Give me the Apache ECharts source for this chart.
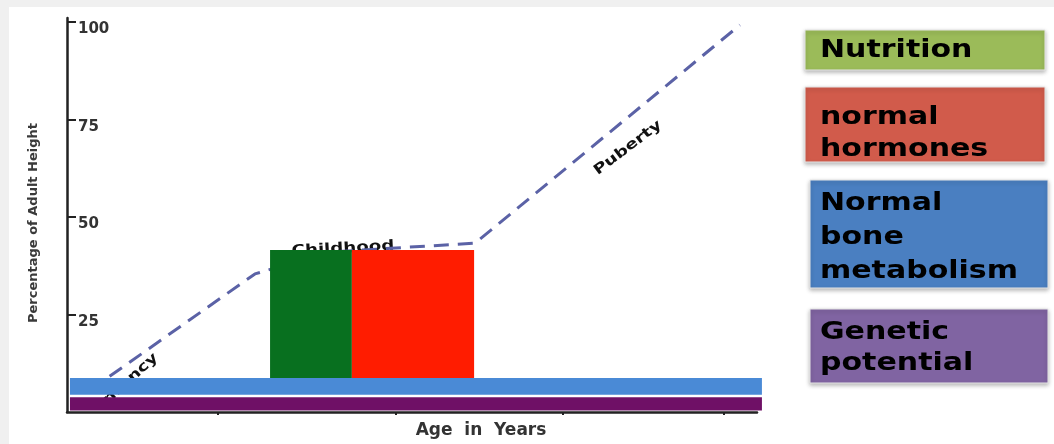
<!DOCTYPE html>
<html>
<head>
<meta charset="utf-8">
<script src="https://cdn.jsdelivr.net/npm/echarts@6/dist/echarts.min.js"></script>
<style>
  html, body { margin: 0; padding: 0; width: 1054px; height: 444px; overflow: hidden; background: #f0f0f0; }
  #chart { position: absolute; left: 9px; top: 7px; width: 1045px; height: 437px; background: #ffffff; }
</style>
</head>
<body>
<div id="chart"></div>
<script>
// Growth curve: age in years vs percentage of adult height
const curveAge    = [0.7, 5.72, 8.0, 12.42, 20.48];
const curveHeight = [5.6, 35.4, 41.0, 43.3, 99.2];

// Stage labels placed along the curve
const stageNames  = ['Infancy', 'Childhood', 'Puberty'];
const stageAge    = [1.86, 8.4, 17.07];
const stageHeight = [7.9, 41.9, 67.7];
const stageAngle  = [42, 3, 37];

// Blocks drawn under the curve (age range x height range)
const blockNames      = ['Genetic potential', 'Normal bone metabolism', 'Nutrition', 'normal hormones'];
const blockAgeFrom    = [0.09, 0.09, 6.18, 8.67];
const blockAgeTo      = [21.15, 21.15, 8.67, 12.39];
const blockHeightFrom = [0.4, 4.4, 8.7, 8.7];
const blockHeightTo   = [3.8, 8.7, 41.5, 41.5];

// Axis ticks
const yTicks = [25, 50, 75, 100];
const xTicks = [4.6, 10, 15.1, 20];

// Factor boxes on the right
const factorLines = ['Nutrition', 'normal\nhormones', 'Normal\nbone\nmetabolism', 'Genetic\npotential'];

// ---- styling ----
const blockColors  = ['#6f1066', '#4a8ad6', '#08701f', '#ff1c00'];
const factorColors = ['#9bbb59', '#d15b4b', '#4a7fc1', '#8064a2'];
const factorBoxes = [
  { x: 796, y: 23,  w: 240, h: 40,  tx: 811, ty: 43,  lh: 32, va: 'middle' },
  { x: 796, y: 80,  w: 240, h: 75,  tx: 811, ty: 94,  lh: 32, va: 'top' },
  { x: 801, y: 173, w: 238, h: 108, tx: 811, ty: 179, lh: 34, va: 'top' },
  { x: 801, y: 302, w: 238, h: 74,  tx: 811, ty: 310, lh: 31, va: 'top' }
];
const axisColor = '#222';
const textFont = '"DejaVu Sans", Verdana, sans-serif';

const chart = echarts.init(document.getElementById('chart'), null, { renderer: 'canvas' });

const graphic = [];
factorLines.forEach((txt, i) => {
  const b = factorBoxes[i];
  graphic.push({
    type: 'rect',
    shape: { x: b.x, y: b.y, width: b.w, height: b.h },
    style: {
      fill: factorColors[i],
      stroke: '#e6e6e6', lineWidth: 1,
      shadowBlur: 4, shadowOffsetY: 2, shadowColor: 'rgba(0,0,0,0.28)'
    },
    z: 10
  });
  graphic.push({
    type: 'text',
    x: b.tx, y: b.ty,
    scaleX: 1.2,
    style: {
      text: txt,
      x: 0, y: 0,
      fontFamily: textFont, fontWeight: 'bold', fontSize: 25,
      lineHeight: b.lh,
      fill: '#000',
      align: 'left', verticalAlign: b.va
    },
    z: 11
  });
});

const option = {
  animation: false,
  backgroundColor: '#ffffff',
  grid: { left: 58, right: 297, top: 11, bottom: 32, outerBoundsMode: 'none' },
  xAxis: {
    type: 'value', min: 0, max: 21,
    axisLine: { show: true, onZero: false, lineStyle: { color: axisColor, width: 2.5 } },
    axisTick: { show: true, customValues: xTicks, length: 3, lineStyle: { color: axisColor, width: 2 } },
    axisLabel: { show: false },
    splitLine: { show: false },
    name: 'Age  in  Years',
    nameLocation: 'middle',
    nameGap: 10,
    nameTextStyle: {
      fontFamily: textFont, fontWeight: 'bold', fontSize: 17, color: '#333',
      padding: [0, 0, 0, 138], verticalAlign: 'top'
    }
  },
  yAxis: {
    type: 'value', min: 0, max: 101,
    axisLine: { show: true, onZero: false, lineStyle: { color: axisColor, width: 2.5 } },
    axisTick: { show: true, inside: true, length: 9, customValues: yTicks, lineStyle: { color: axisColor, width: 2 } },
    axisLabel: {
      show: true, inside: true, margin: 11, customValues: yTicks,
      verticalAlign: 'top',
      fontFamily: textFont, fontWeight: 'bold', fontSize: 15, color: '#333'
    },
    splitLine: { show: false },
    name: 'Percentage of Adult Height',
    nameLocation: 'middle',
    nameRotate: 90,
    nameGap: 27,
    nameTextStyle: {
      fontFamily: textFont, fontWeight: 'bold', fontSize: 13, color: '#3a3a3a',
      padding: [0, 16, 0, 0]
    }
  },
  graphic: graphic,
  series: [
    {
      // stage names sit beneath the curve and the blocks
      name: 'Stages',
      type: 'custom',
      z: 1,
      silent: true,
      data: stageNames.map((n, i) => [stageAge[i], stageHeight[i], stageAngle[i]]),
      encode: { x: 0, y: 1 },
      renderItem: function (params, api) {
        const p = api.coord([api.value(0), api.value(1)]);
        return {
          type: 'text',
          x: p[0], y: p[1],
          rotation: api.value(2) * Math.PI / 180,
          scaleX: 1.3,
          style: {
            text: stageNames[params.dataIndex],
            x: 0, y: 0,
            align: 'center', verticalAlign: 'middle',
            fontFamily: textFont, fontWeight: 'bold', fontSize: 14,
            fill: '#111'
          }
        };
      }
    },
    {
      name: 'Growth',
      type: 'line',
      z: 2,
      silent: true,
      showSymbol: false,
      data: curveAge.map((a, i) => [a, curveHeight[i]]),
      lineStyle: { color: '#5b62a6', width: 3, type: [15, 9], cap: 'butt' }
    },
    {
      name: 'Blocks',
      type: 'custom',
      z: 3,
      silent: true,
      clip: false,
      data: blockNames.map((n, i) => [blockAgeFrom[i], blockAgeTo[i], blockHeightFrom[i], blockHeightTo[i]]),
      encode: { x: [0, 1], y: [2, 3] },
      renderItem: function (params, api) {
        const p0 = api.coord([api.value(0), api.value(3)]);
        const p1 = api.coord([api.value(1), api.value(2)]);
        return {
          type: 'rect',
          shape: { x: p0[0], y: p0[1], width: p1[0] - p0[0], height: p1[1] - p0[1] },
          style: { fill: blockColors[params.dataIndex] }
        };
      }
    }
  ]
};

chart.setOption(option);
</script>
</body>
</html>
